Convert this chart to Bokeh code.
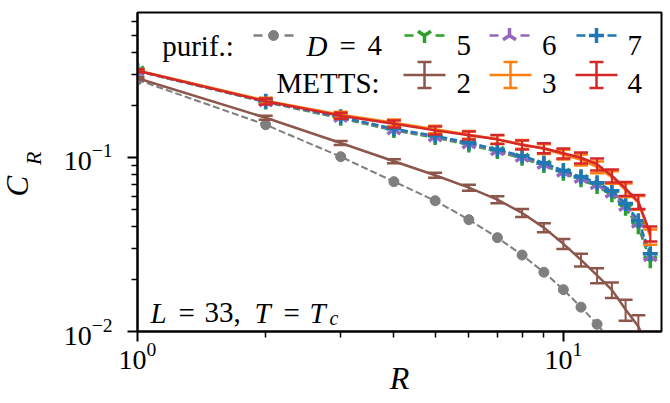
import numpy as np
from bokeh.plotting import figure
from bokeh.models import Range1d, LinearScale, FixedTicker, Label, Title
from bokeh.embed import file_html
from bokeh.resources import INLINE

# ---------------- data ----------------
R = [1, 2, 3, 4, 5, 6, 7, 8, 9, 10, 11, 12, 13, 14, 15, 16]

# purification, bond dimension D
R_purif_D4 = [1, 2, 3, 4, 5, 6, 7, 8, 9, 10, 11, 12, 13]
purif_D4 = [0.279, 0.154, 0.101, 0.0726, 0.0564, 0.0439, 0.0346, 0.0275,
            0.0219, 0.0174, 0.0138, 0.0110, 0.0087]
purif_D5 = [0.313, 0.208, 0.168, 0.143, 0.130, 0.118, 0.108, 0.099,
            0.090, 0.081, 0.0745, 0.068, 0.061, 0.051, 0.040, 0.0255]
purif_D6 = [0.314, 0.209, 0.170, 0.1445, 0.1315, 0.120, 0.1095, 0.1005,
            0.0915, 0.0825, 0.076, 0.070, 0.0625, 0.0525, 0.042, 0.027]
purif_D7 = [0.315, 0.210, 0.171, 0.146, 0.133, 0.1215, 0.111, 0.102,
            0.093, 0.084, 0.0775, 0.0716, 0.0644, 0.0543, 0.0433, 0.028]

# METTS, bond dimension D, with error bars
metts_D2 = [0.285, 0.169, 0.121, 0.095, 0.079, 0.067, 0.0572, 0.048,
            0.0395, 0.0319, 0.0258, 0.0210, 0.01735, 0.01337, 0.0107, 0.0075]
metts_D2_err = [0.0038, 0.0045, 0.0032, 0.0025, 0.0026, 0.0027, 0.0026, 0.0025,
                0.0023, 0.0021, 0.0022, 0.0021, 0.0018, 0.00185, 0.0017, 0.0014]
metts_D3 = [0.316, 0.212, 0.176, 0.158, 0.145, 0.135, 0.127, 0.119,
            0.112, 0.104, 0.097, 0.088, 0.077, 0.065, 0.055, 0.035]
metts_D3_err = [0.0060, 0.0080, 0.0068, 0.0070, 0.0072, 0.0070, 0.0072, 0.0068,
                0.0072, 0.0068, 0.0070, 0.0068, 0.0064, 0.0058, 0.0050, 0.0035]
metts_D4 = [0.315, 0.210, 0.1735, 0.156, 0.143, 0.134, 0.127, 0.118,
            0.113, 0.1057, 0.0996, 0.0914, 0.0785, 0.0662, 0.0557, 0.0365]
metts_D4_err = [0.0062, 0.0083, 0.0069, 0.0072, 0.0075, 0.0071, 0.0075, 0.0070,
                0.0075, 0.0070, 0.0072, 0.0072, 0.0067, 0.0061, 0.0051, 0.0036]

x_major_ticks = [1, 10]
x_minor_ticks = [2, 3, 4, 5, 6, 7, 8, 9]
y_major_ticks = [0.01, 0.1]
y_minor_ticks = [0.02, 0.03, 0.04, 0.05, 0.06, 0.07, 0.08, 0.09,
                 0.2, 0.3, 0.4, 0.5, 0.6]

# ---------------- style ----------------
FONT = "Liberation Serif"
GRAY, GREEN, PURPLE, BLUE = "#7f7f7f", "#2ca02c", "#9467bd", "#1f77b4"
BROWN, ORANGE, RED = "#8c564b", "#ff7f0e", "#d62728"

FL, FB = 137, 331  # frame left / bottom in page pixels (for legend layout)


def lx(sx):
    return sx - FL


def ly(sy):
    return FB - sy


p = figure(width=668, height=403, x_axis_type="log", y_axis_type="log",
           x_range=Range1d(1, 17), y_range=Range1d(0.01, 0.68),
           output_backend="svg", toolbar_location=None,
           min_border_left=137, min_border_right=7,
           min_border_top=12, min_border_bottom=72)
p.extra_x_ranges = {"leg": Range1d(0, 524)}
p.extra_y_ranges = {"leg": Range1d(0, 319)}
p.extra_x_scales = {"leg": LinearScale()}
p.extra_y_scales = {"leg": LinearScale()}

p.xgrid.visible = False
p.ygrid.visible = False
p.outline_line_color = "black"
p.outline_line_width = 2
p.outline_line_alpha = 1
p.background_fill_color = "white"
p.border_fill_color = "white"

p.xaxis.ticker = FixedTicker(ticks=x_major_ticks, minor_ticks=x_minor_ticks)
p.yaxis.ticker = FixedTicker(ticks=y_major_ticks, minor_ticks=y_minor_ticks)
for ax in (p.xaxis, p.yaxis):
    ax.axis_line_width = 2
    ax.axis_line_color = "black"
    ax.major_tick_line_width = 2
    ax.minor_tick_line_width = 1.5
    ax.major_tick_out = 10
    ax.major_tick_in = 0
    ax.minor_tick_out = 6
    ax.minor_tick_in = 0
    ax.major_label_text_font = FONT
    ax.major_label_text_font_size = "28px"
    ax.major_label_text_color = "black"
    ax.axis_label_text_font = FONT
    ax.axis_label_text_font_style = "italic"
    ax.axis_label_text_color = "black"
p.xaxis.major_label_standoff = 1
p.yaxis.major_label_standoff = 15

# x label R; y label C_R = title "C" plus the subscript "R" as the axis label
p.xaxis.axis_label = "R"
p.xaxis.axis_label_text_font_size = "32px"
p.xaxis.axis_label_text_line_height = 0.8
p.xaxis.axis_label_standoff = -12
p.yaxis.axis_label = "\u00a0" * 5 + "R"
p.yaxis.axis_label_text_font_size = "22px"
p.yaxis.axis_label_standoff = 15
p.add_layout(Title(text="C", align="left", offset=135, vertical_align="bottom",
                   standoff=-34, text_font=FONT, text_font_style="italic",
                   text_font_size="31px", text_color="black"), "left")

# ---------------- purification curves ----------------
p.line(R_purif_D4, purif_D4, line_color=GRAY, line_width=2, line_dash="7 3")
p.scatter(R_purif_D4, purif_D4, marker="circle", size=10, fill_color=GRAY,
          line_color=GRAY)

purif = [(purif_D5, GREEN, "y", 0.0), (purif_D6, PURPLE, "y", np.pi),
         (purif_D7, BLUE, "cross", 0.0)]
for vals, col, mk, ang in purif:
    p.line(R, vals, line_color=col, line_width=2.5, line_dash="7 3")
    p.scatter(R, vals, marker=mk, angle=ang, size=15, line_color=col,
              line_width=3.5)

# ---------------- METTS curves with error bars ----------------
metts = [(metts_D2, metts_D2_err, BROWN), (metts_D3, metts_D3_err, ORANGE),
         (metts_D4, metts_D4_err, RED)]
for vals, err, col in metts:
    v = np.array(vals)
    e = np.array(err)
    p.segment(x0=R, y0=v - e, x1=R, y1=v + e, line_color=col, line_width=2)
    p.scatter(R, v - e, marker="dash", size=14, line_color=col, line_width=2.5)
    p.scatter(R, v + e, marker="dash", size=14, line_color=col, line_width=2.5)
    p.line(R, vals, line_color=col, line_width=2.5)

# ---------------- legend (drawn in a pixel-like "leg" coordinate system) ----
ROW1, ROW2 = ly(35), ly(74.5)
purif_handles = [(273, GRAY, "circle", 0.0, 10), (424, GREEN, "y", 0.0, 15),
                 (509, PURPLE, "y", np.pi, 15), (596, BLUE, "cross", 0.0, 15)]
for cx, col, mk, ang, sz in purif_handles:
    c = lx(cx)
    p.segment(x0=[c - 20, c + 11], y0=[ROW1, ROW1], x1=[c - 11, c + 20],
              y1=[ROW1, ROW1], line_color=col, line_width=2.5,
              x_range_name="leg", y_range_name="leg")
    p.scatter([c], [ROW1], marker=mk, angle=ang, size=sz, line_color=col,
              fill_color=col, line_width=3.5 if mk != "circle" else 1,
              x_range_name="leg", y_range_name="leg")

metts_handles = [(424, BROWN), (510, ORANGE), (596, RED)]
for cx, col in metts_handles:
    c = lx(cx)
    p.segment(x0=[c - 21, c], y0=[ROW2, ROW2 - 13], x1=[c + 21, c],
              y1=[ROW2, ROW2 + 13], line_color=col, line_width=2.5,
              x_range_name="leg", y_range_name="leg")
    p.scatter([c, c], [ROW2 - 13, ROW2 + 13], marker="dash", size=14,
              line_color=col, line_width=2.5,
              x_range_name="leg", y_range_name="leg")

# texts inside the frame (data units of the pixel-like "leg" system)
texts = [
    ("purif.:", 161.7, 45, "normal", 29, "left"),
    ("D", 306, 45, "italic", 29, "left"),
    ("=", 339, 45, "normal", 29, "left"),
    ("4", 367, 45, "normal", 29, "left"),
    ("5", 456, 45, "normal", 29, "left"),
    ("6", 541.6, 45, "normal", 29, "left"),
    ("7", 627, 45, "normal", 29, "left"),
    ("METTS:", 276, 82.5, "normal", 29, "left"),
    ("2", 456, 82.5, "normal", 29, "left"),
    ("3", 541.6, 82.5, "normal", 29, "left"),
    ("4", 627, 82.5, "normal", 29, "left"),
    ("L", 150, 312, "italic", 29, "left"),
    ("=", 178, 312, "normal", 29, "left"),
    ("33,", 204, 312, "normal", 29, "left"),
    ("T", 254, 312, "italic", 29, "left"),
    ("=", 283, 312, "normal", 29, "left"),
    ("T", 309, 312, "italic", 29, "left"),
    ("c", 329, 317, "italic", 20, "left"),
]
for txt, sx, sy, style, size, align in texts:
    p.add_layout(Label(x=lx(sx), y=ly(sy), x_units="data", y_units="data",
                       x_range_name="leg", y_range_name="leg", text=txt,
                       text_font=FONT, text_font_style=style,
                       text_font_size=f"{size}px", text_color="black",
                       text_baseline="alphabetic", text_align=align))

open("out.html", "w").write(file_html(p, INLINE))
